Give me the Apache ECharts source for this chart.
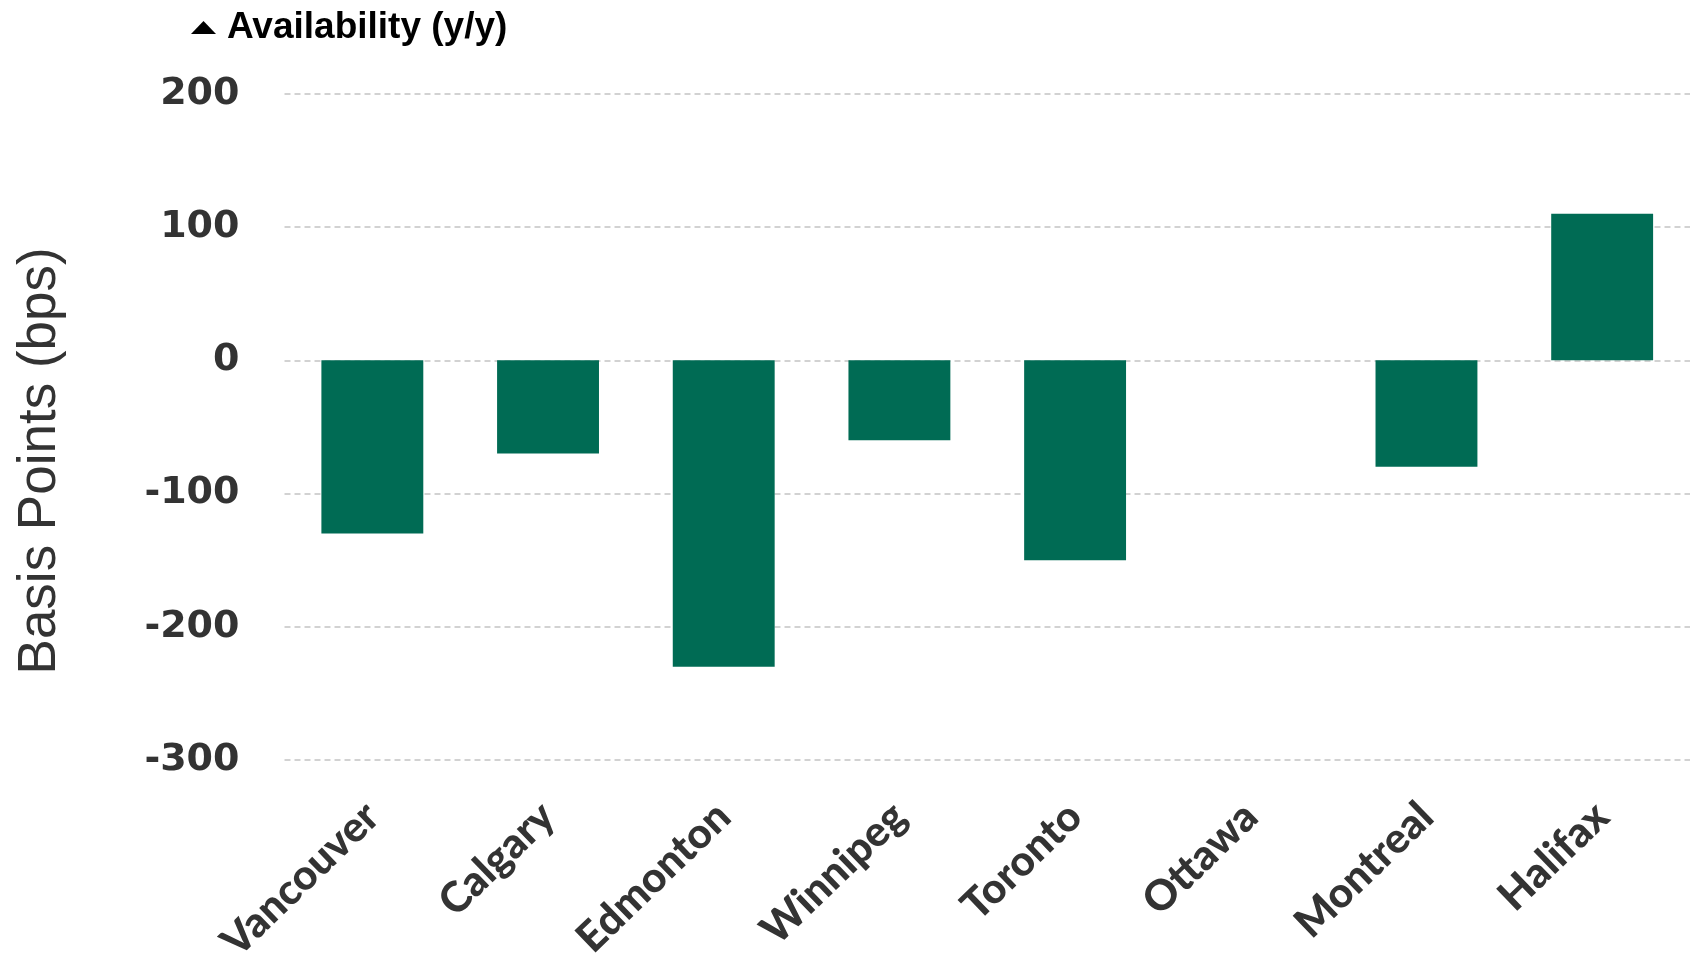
<!DOCTYPE html>
<html>
<head>
<meta charset="utf-8">
<script src="https://cdn.jsdelivr.net/npm/echarts@6/dist/echarts.min.js"></script>
<style>html,body{margin:0;padding:0;background:#fff}#c{width:1690px;height:963px}</style>
</head>
<body>
<div id="c"></div>
<script>
const categories = ['Vancouver','Calgary','Edmonton','Winnipeg','Toronto','Ottawa','Montreal','Halifax'];
const availability = [-130, -70, -230, -60, -150, 0, -80, 110];
const seriesName = 'Availability (y/y)';
const yAxisName = 'Basis Points (bps)';
const yMin = -300, yMax = 200, yInterval = 100;

const chart = echarts.init(document.getElementById('c'), null, {renderer: 'canvas'});
chart.setOption({
  animation: false,
  backgroundColor: '#ffffff',
  legend: {
    data: [{name: seriesName, icon: 'triangle', itemStyle: {color: '#000'}}],
    left: 186, top: 4,
    itemWidth: 25, itemHeight: 13, itemGap: 10,
    textStyle: {fontFamily: 'Liberation Sans, Arial, sans-serif', fontWeight: 'bold', fontSize: 37, color: '#000', padding: [0,0,0,6]}
  },
  grid: {left: 284.5, right: 0, top: 93.8, bottom: 203, containLabel: false, outerBoundsMode: 'none'},
  xAxis: {
    type: 'category',
    data: categories,
    axisLine: {show: false},
    axisTick: {show: false},
    axisLabel: {
      rotate: 44, margin: 50, interval: 0,
      fontFamily: 'Lato, DejaVu Sans, sans-serif', fontWeight: 900, fontSize: 42, color: '#333'
    }
  },
  yAxis: {
    type: 'value', min: yMin, max: yMax, interval: yInterval,
    name: yAxisName, nameLocation: 'middle', nameGap: 218,
    nameTextStyle: {fontFamily: 'Liberation Sans, Arial, sans-serif', fontSize: 53, color: '#333', padding: [0, 68, 0, 0]},
    axisLine: {show: false}, axisTick: {show: false},
    axisLabel: {margin: 45, fontFamily: 'DejaVu Sans, sans-serif', fontWeight: 'bold', fontSize: 38, color: '#333'},
    splitLine: {show: true, lineStyle: {color: '#c4c4c4', width: 1.5, type: [6, 4]}}
  },
  series: [{
    name: seriesName, type: 'bar', data: availability,
    barWidth: '58%',
    itemStyle: {color: '#006B54'}
  }]
});
</script>
</body>
</html>
